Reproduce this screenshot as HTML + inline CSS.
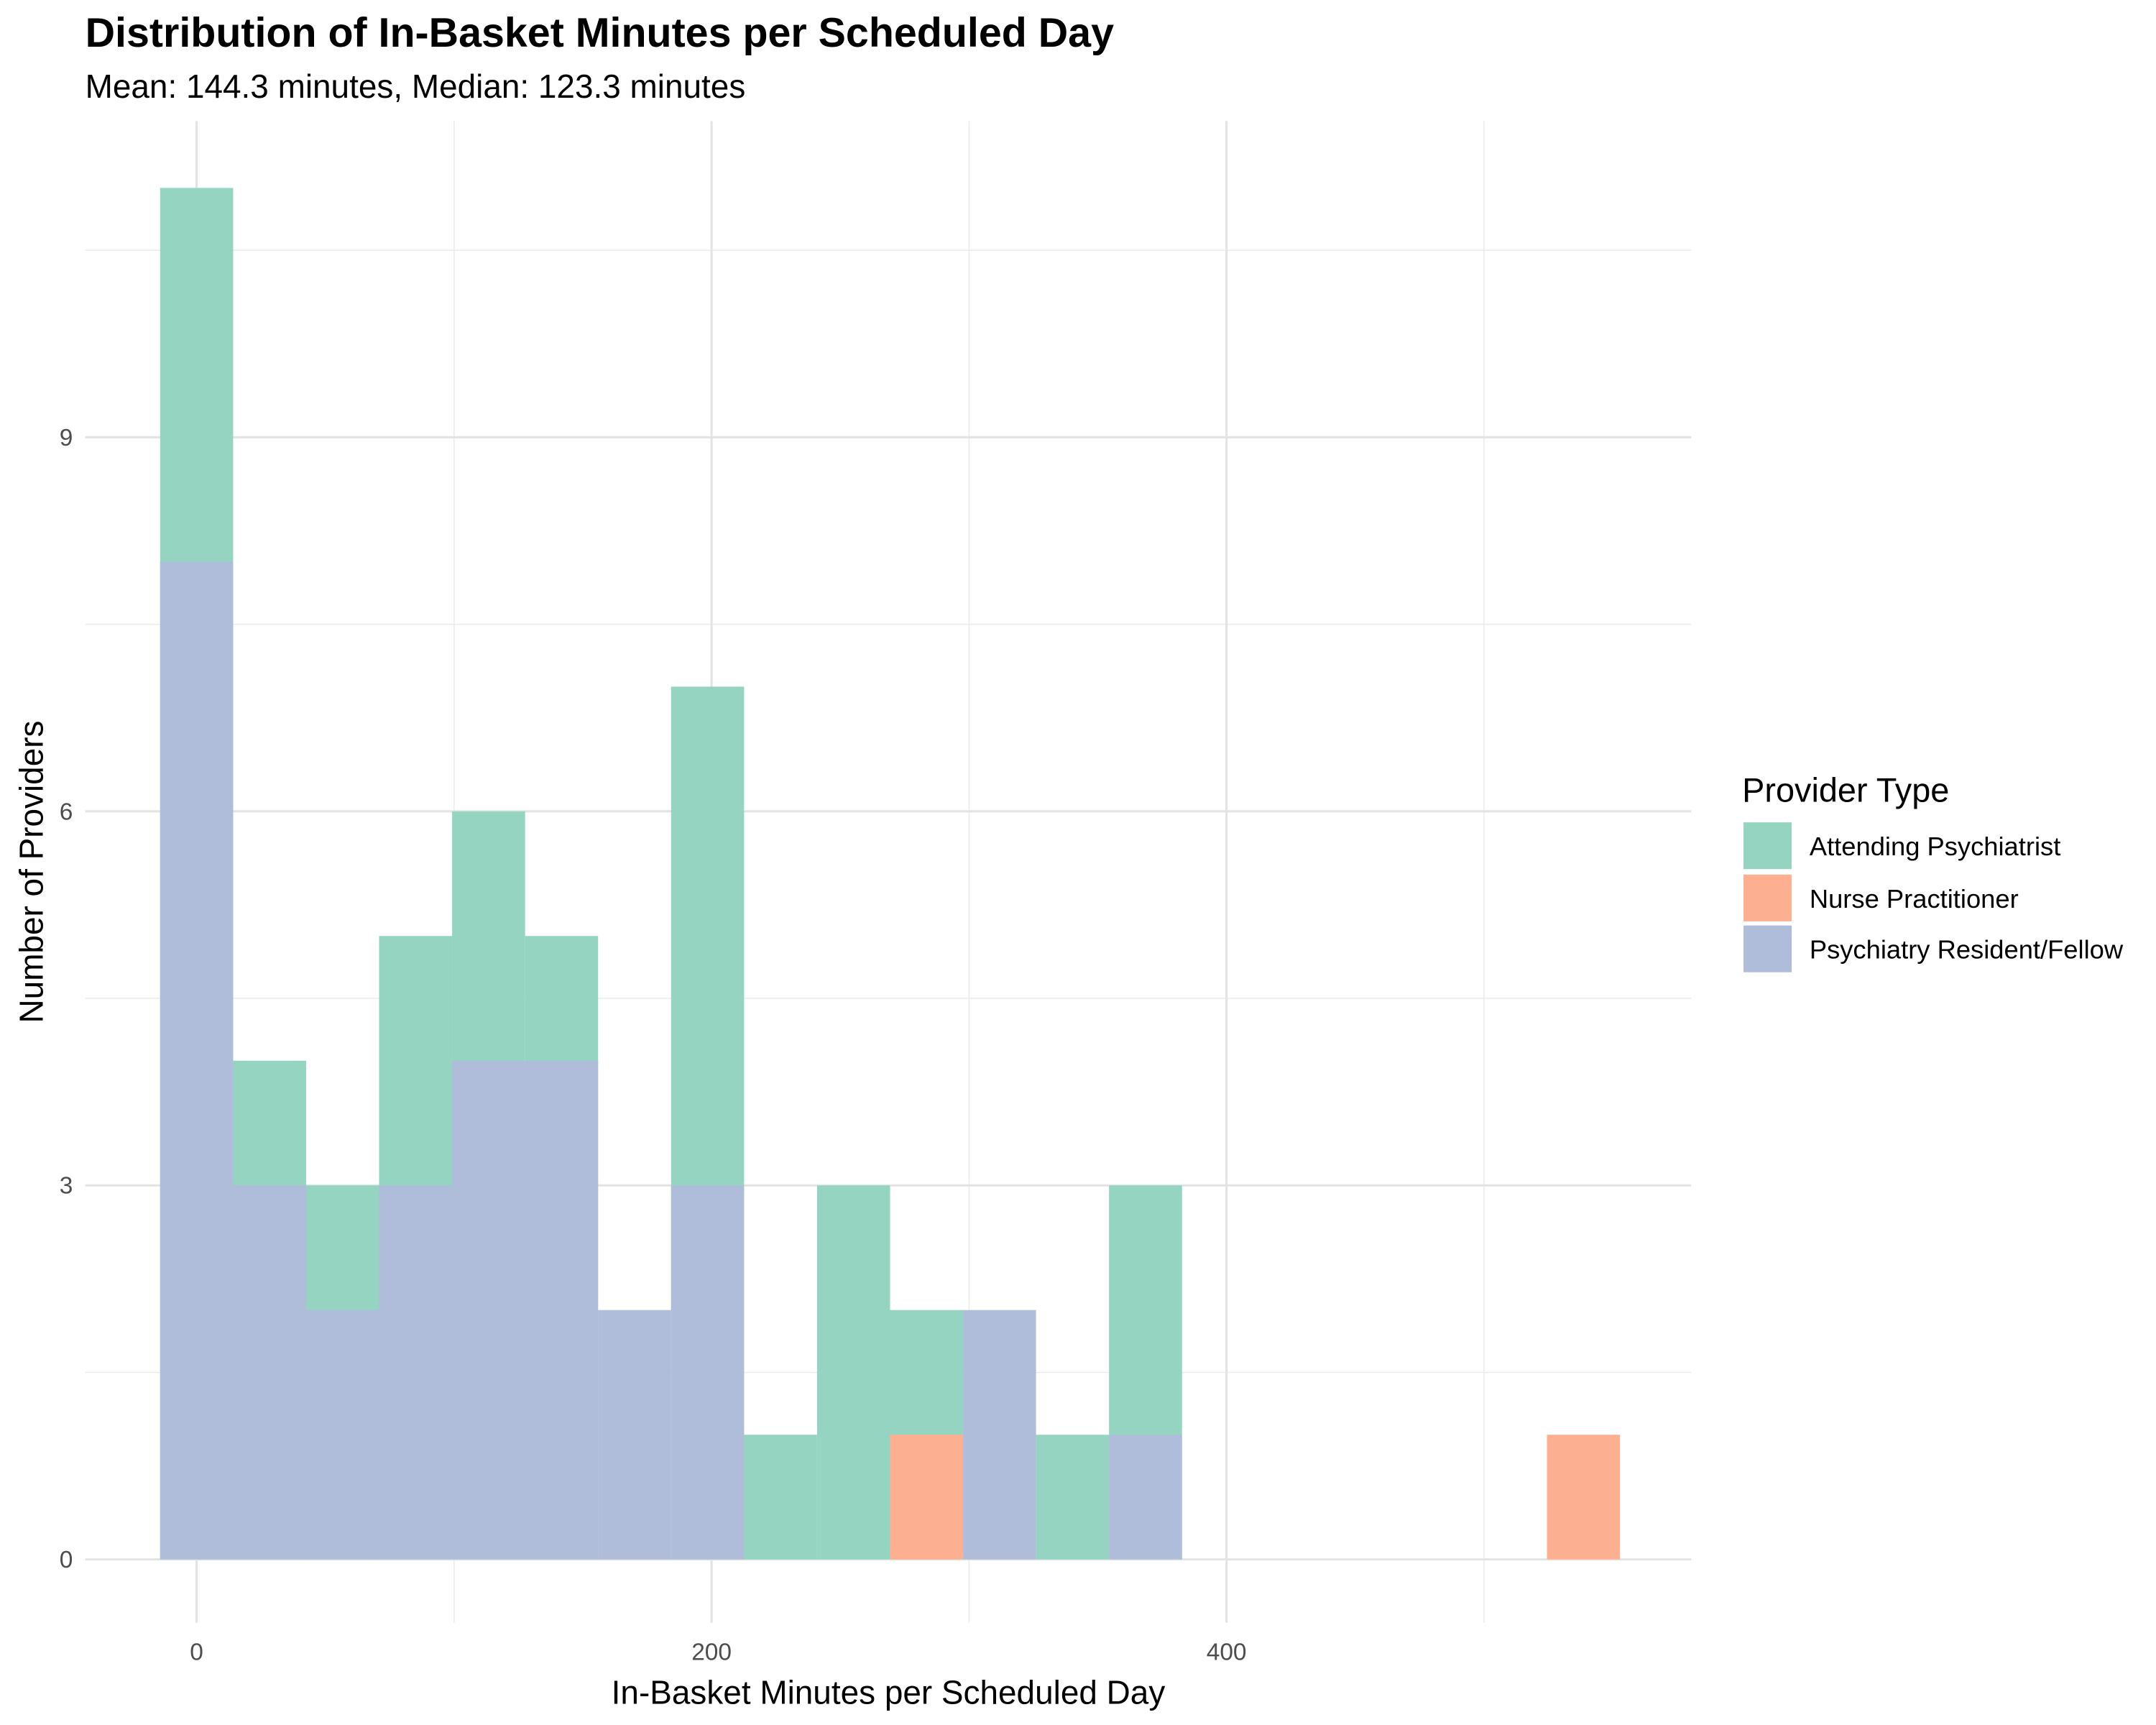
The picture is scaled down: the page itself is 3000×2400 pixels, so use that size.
<!DOCTYPE html>
<html><head><meta charset="utf-8"><style>
html,body{margin:0;padding:0;background:#fff;}
svg{display:block;font-family:"Liberation Sans",Arial,sans-serif;}
</style></head><body>
<svg id="chart" width="3000" height="2400" viewBox="0 0 1568 1254.4" xmlns="http://www.w3.org/2000/svg">
<rect width="1568" height="1254.4" fill="#fff"/>
<text x="62" y="34" font-size="30" font-weight="bold" fill="#000">Distribution of In-Basket Minutes per Scheduled Day</text>
<text x="62" y="71" font-size="24" fill="#000">Mean: 144.3 minutes, Median: 123.3 minutes</text>
<g id="grid"></g>
<g id="bars"></g>
<g id="axes"></g>
<text x="646" y="1239" font-size="24" text-anchor="middle" fill="#000">In-Basket Minutes per Scheduled Day</text>
<text transform="translate(31,634) rotate(-90)" font-size="24" text-anchor="middle" fill="#000">Number of Providers</text>
<g>
<text x="1267" y="583" font-size="24.5" fill="#000">Provider Type</text>
<rect x="1268" y="598" width="35" height="34" fill="#94D4C0"/>
<text x="1316" y="622" font-size="19">Attending Psychiatrist</text>
<rect x="1268" y="636" width="35" height="34" fill="#FDAF91"/>
<text x="1316" y="660" font-size="19">Nurse Practitioner</text>
<rect x="1268" y="673" width="35" height="34" fill="#AFBCDA"/>
<text x="1316" y="697" font-size="19">Psychiatry Resident/Fellow</text>
</g>
</svg>
<script>
const binWidth = 28.35;
const binIndex = [0,1,2,3,4,5,6,7,8,9,10,11,12,13,14,15,16,17,18,19];
const attending = [11,4,3,5,6,5,0,7,1,3,2,0,1,3,0,0,0,0,0,0];
const nursePractitioner = [0,0,0,0,0,0,0,0,0,0,1,0,0,0,0,0,0,0,0,1];
const resident = [8,3,2,3,4,4,2,3,0,0,0,2,0,1,0,0,0,0,0,0];
const xTicks = [0,200,400];
const xMinor = [100,300,500];
const yTicks = [0,3,6,9];
const yMinor = [1.5,4.5,7.5,10.5];

const NS = "http://www.w3.org/2000/svg";
const L = 62, R = 1230, T = 88, B = 1180;
function xs(v){ return 143 + v * 1.8725; }
function ys(v){ return 1134 - v * 90.667; }
function mk(tag, attrs, parent){ const e=document.createElementNS(NS,tag); for(const k in attrs) e.setAttribute(k,attrs[k]); parent.appendChild(e); return e; }

const grid = document.getElementById('grid');
yMinor.forEach(v=>{ const l=mk('line',{x1:L,x2:R,y1:ys(v),y2:ys(v),stroke:'#ebebeb','stroke-width':0.8},grid);

 });
xMinor.forEach(v=>{ const l=mk('line',{x1:xs(v),x2:xs(v),y1:T,y2:B,stroke:'#ebebeb','stroke-width':0.8},grid);

 });
yTicks.forEach(v=>{ const l=mk('line',{x1:L,x2:R,y1:ys(v),y2:ys(v),stroke:'#e3e3e3','stroke-width':1.6},grid);

 });
xTicks.forEach(v=>{ const l=mk('line',{x1:xs(v),x2:xs(v),y1:T,y2:B,stroke:'#e3e3e3','stroke-width':1.6},grid);

 });

const bars = document.getElementById('bars');
function series(arr, color, name){
  binIndex.forEach(i=>{
    const v = arr[i]; if(!v) return;
    const c = i*binWidth;
    const x0 = xs(c - binWidth/2), x1 = xs(c + binWidth/2);
    const r = mk('rect',{x:x0,y:ys(v),width:x1-x0,height:ys(0)-ys(v),fill:color},bars);
    
    
  });
}
series(attending,'#94D4C0','attending');
series(nursePractitioner,'#FDAF91','nurse-practitioner');
series(resident,'#AFBCDA','resident');

const axes = document.getElementById('axes');
xTicks.forEach(v=>{ const t=mk('text',{x:xs(v),y:1207,'font-size':17.5,'text-anchor':'middle',fill:'#4d4d4d'},axes); t.textContent=v;

 });
yTicks.forEach(v=>{ const t=mk('text',{x:53,y:ys(v)+6,'font-size':17.5,'text-anchor':'end',fill:'#4d4d4d'},axes); t.textContent=v;

 });
</script>
</body></html>
